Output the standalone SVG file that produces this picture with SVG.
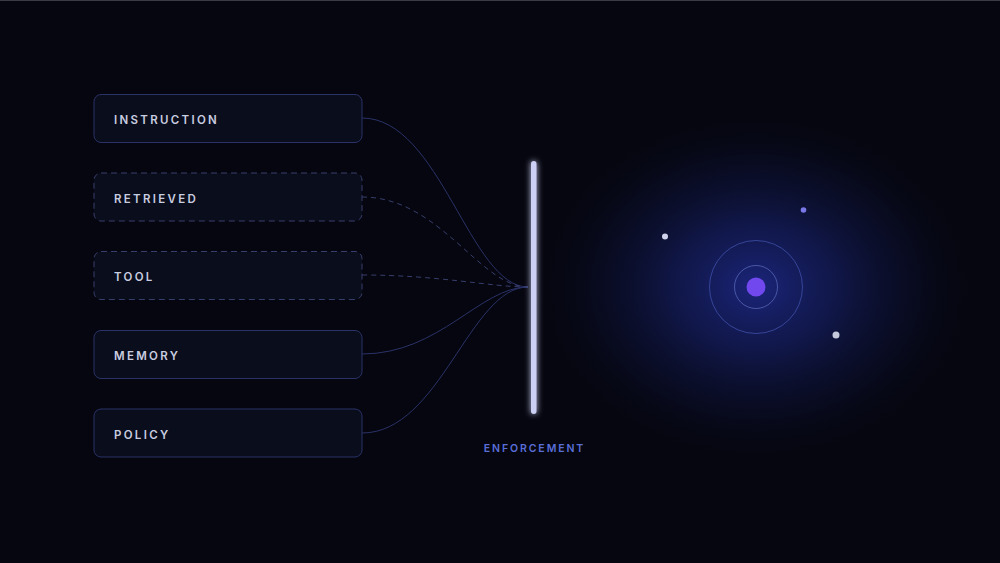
<svg xmlns="http://www.w3.org/2000/svg" width="1000" height="563" viewBox="0 0 1000 563">
<defs>
<style>
.box{fill:#0a0d1b;stroke:#2b3268;stroke-width:1}
.dash{stroke:#383e6c;stroke-dasharray:6 4}
.lbl{font-family:Inter,"Liberation Sans",sans-serif;font-size:11.5px;font-weight:600;letter-spacing:2.3px;fill:#c9cde0}
.con{fill:none;stroke:#2a3268;stroke-width:1}
.con.d{stroke-dasharray:5 4;stroke:#383e6c}
</style>
<radialGradient id="glow" cx="756" cy="287" r="230" gradientUnits="userSpaceOnUse" gradientTransform="translate(756 287) scale(1 0.8) translate(-756 -287)">
<stop offset="0" stop-color="#1e2a8c" stop-opacity="0.85"/>
<stop offset="0.35" stop-color="#18226e" stop-opacity="0.6"/>
<stop offset="0.7" stop-color="#101542" stop-opacity="0.3"/>
<stop offset="1" stop-color="#05060f" stop-opacity="0"/>
</radialGradient>
<filter id="bglow" x="-300%" y="-10%" width="700%" height="120%">
<feGaussianBlur stdDeviation="3" result="b"/>
<feMerge><feMergeNode in="b"/><feMergeNode in="SourceGraphic"/></feMerge>
</filter>
</defs>
<rect width="1000" height="563" fill="#05060f"/>
<rect width="1000" height="1" fill="#3a3b46"/>
<ellipse cx="756" cy="287" rx="230" ry="184" fill="url(#glow)"/>
<g id="connectors">
<path class="con" d="M362 118 C440 118 470 287 528 287"/>
<path class="con d" d="M362 197 C440 197 480 287 528 287"/>
<path class="con d" d="M362 275 C440 275 490 287 528 287"/>
<path class="con" d="M362 354 C440 354 480 287 528 287"/>
<path class="con" d="M362 433 C440 433 470 287 528 287"/>
</g>
<g id="instruction"><rect class="box" x="94" y="94.5" width="268" height="48" rx="7"/><text class="lbl" x="114" y="124">INSTRUCTION</text></g>
<g id="retrieved"><rect class="box dash" x="94" y="173" width="268" height="48" rx="7"/><text class="lbl" x="114" y="202.5">RETRIEVED</text></g>
<g id="tool"><rect class="box dash" x="94" y="251.5" width="268" height="48" rx="7"/><text class="lbl" x="114" y="281">TOOL</text></g>
<g id="memory"><rect class="box" x="94" y="330.5" width="268" height="48" rx="7"/><text class="lbl" x="114" y="360">MEMORY</text></g>
<g id="policy"><rect class="box" x="94" y="409" width="268" height="48" rx="7"/><text class="lbl" x="114" y="438.5">POLICY</text></g>
<g id="enforcement">
<rect x="531" y="161" width="5.5" height="253" rx="2.75" fill="#cdd0f5" filter="url(#bglow)"/>
<text x="534.5" y="452" text-anchor="middle" font-family="Inter,'Liberation Sans',sans-serif" font-size="10.5" font-weight="600" letter-spacing="1.9" fill="#5a6ed8">ENFORCEMENT</text>
</g>
<g id="core">
<circle cx="756" cy="287" r="46.5" fill="none" stroke="#3f4fa8" stroke-width="0.8"/>
<circle cx="756" cy="287" r="21.5" fill="none" stroke="#5566b8" stroke-width="0.8"/>
<circle cx="756" cy="287" r="9.5" fill="#7048ee"/>
<circle cx="665" cy="236.5" r="3" fill="#cfd2ea"/>
<circle cx="803.5" cy="210" r="2.8" fill="#7a78e6"/>
<circle cx="836" cy="335" r="3.5" fill="#c6c9dc"/>
</g>
</svg>
